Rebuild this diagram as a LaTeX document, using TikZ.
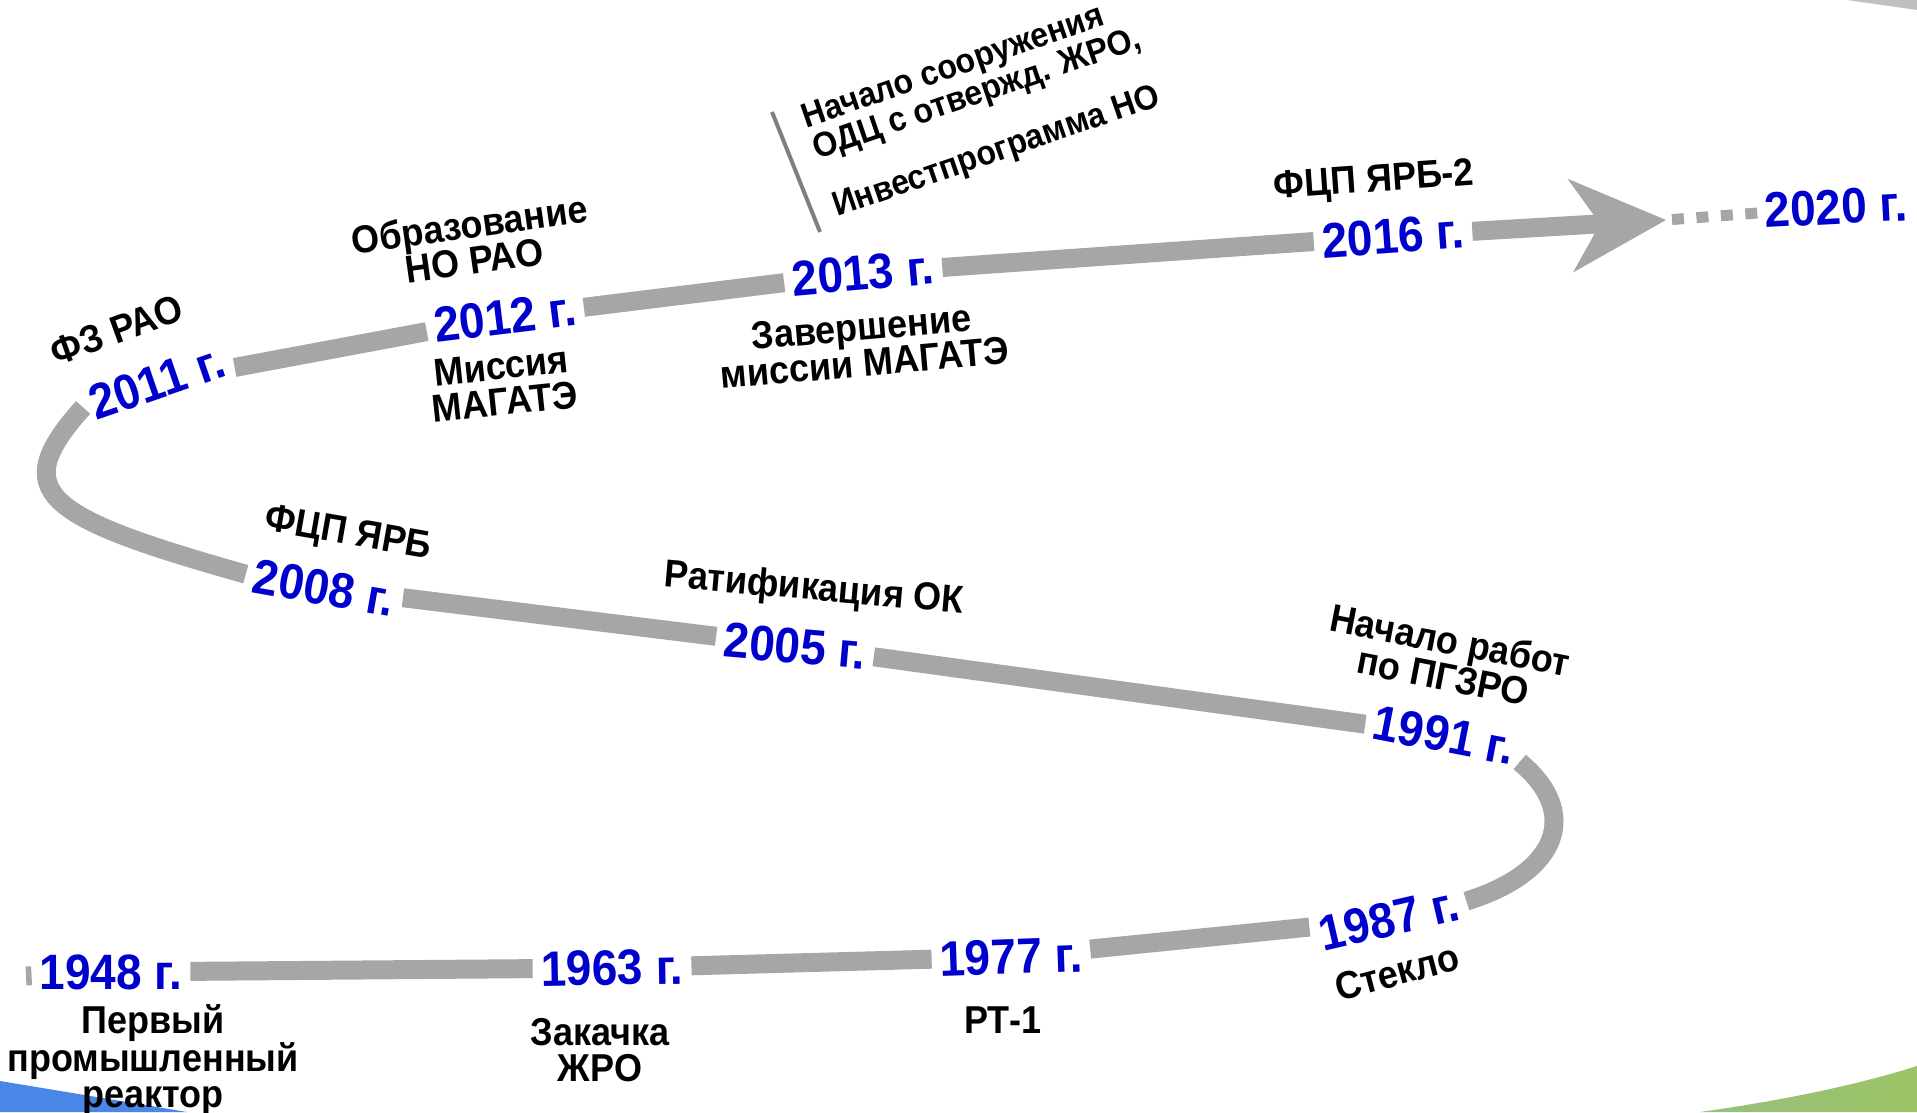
\documentclass[tikz,border=0pt]{standalone}
\usepackage{fontspec}
\setmainfont{Liberation Sans}
\usetikzlibrary{arrows.meta}
\definecolor{yearblue}{HTML}{0000CC}
\definecolor{track}{HTML}{A6A6A6}
\definecolor{rule}{HTML}{7F7F7F}
\definecolor{cornergray}{HTML}{BFBFBF}
\definecolor{sky}{HTML}{4A86E8}
\definecolor{leafL}{HTML}{95BF80}
\definecolor{leafR}{HTML}{9CC465}
\tikzset{
  yr/.style={font=\fontsize{46pt}{50pt}\selectfont\bfseries, text=yearblue,
    inner xsep=8pt, inner ysep=4pt},
  lbl/.style={font=\fontsize{36pt}{33.5pt}\selectfont\bfseries, align=center, inner sep=2pt},
  tilted/.style={rotate=#1, yscale=1.08},
  tilted/.default=0,
  trk/.style={draw=track, line width=19pt},
  arr/.style={trk, -{Stealth[length=96pt,width=94pt,inset=30pt,line width=0pt]}},
  dots/.style={draw=track, line width=11pt, dash pattern=on 12pt off 12.5pt, dash phase=18.5pt},
}

\begin{document}
\begin{tikzpicture}[x=1pt, y=1pt]
  \useasboundingbox (0,0) rectangle (1917,1112);
  % фон
  \fill[sky] (0,31) -- (187,0) -- (0,0) -- cycle;
  \shade[left color=leafL, right color=leafR] (1700,0) .. controls (1800,14) and (1870,31) .. (1917,46) -- (1917,0) -- cycle;
  \fill[cornergray] (1847,1112) -- (1917,1102) -- (1917,1112) -- cycle;
  % годы
  \node[yr, tilted] (y1948) at (111,140) {1948 г.};
  \node[yr, tilted=1] (y1963) at (612,144) {1963 г.};
  \node[yr, tilted=2] (y1977) at (1011,155) {1977 г.};
  \node[yr, tilted=13] (y1987) at (1389,193) {1987 г.};
  \node[yr, tilted=-11] (y1991) at (1444,377) {1991 г.};
  \node[yr, tilted=-5] (y2005) at (795,466) {2005 г.};
  \node[yr, tilted=-10] (y2008) at (324,524) {2008 г.};
  \node[yr, tilted=19] (y2011) at (157,730) {2011 г.};
  \node[yr, tilted=7] (y2012) at (505,795) {2012 г.};
  \node[yr, tilted=5] (y2013) at (863,839) {2013 г.};
  \node[yr, tilted=4] (y2016) at (1393,876) {2016 г.};
  \node[yr, tilted=3, inner xsep=5pt] (y2020) at (1836,905) {2020 г.};
  % линия
  \coordinate (start) at (26,136);
  \coordinate (tip) at (1666,892);
  \draw[trk] (start) -- (y1948);
  \draw[trk] (y1948) -- (y1963);
  \draw[trk] (y1963) -- (y1977);
  \draw[trk] (y1977) -- (y1987);
  \draw[trk] (y1987.east) .. controls (1560,240) and (1580,300) .. (y1991.-8);
  \draw[trk] (y1991) -- (y2005);
  \draw[trk] (y2005) -- (y2008);
  \draw[trk] (y2008.west) .. controls (43,595) and (7,620) .. (y2011.west);
  \draw[trk] (y2011) -- (y2012);
  \draw[trk] (y2012) -- (y2013);
  \draw[trk] (y2013) -- (y2016);
  \draw[dots] (tip) -- (y2020);
  \draw[arr] (y2016) -- (tip);
  % подписи
  \node[lbl, tilted] (lFirst) at (153,52) {Первый\\промышленный\\реактор};
  \node[lbl, tilted] (lZak) at (600,62) {Закачка\\ЖРО};
  \node[lbl, tilted] (lRT) at (1003,92) {РТ-1};
  \node[lbl, tilted=15] (lGlass) at (1397,140) {Стекло};
  \node[lbl, tilted=-11] (lPgzro) at (1447,454) {Начало работ\\по ПГЗРО};
  \node[lbl, tilted=-5] (lRatif) at (814,522) {Ратификация ОК};
  \node[lbl, tilted=-10] (lFcp) at (348,577) {ФЦП ЯРБ};
  \node[lbl, tilted=20] (lFz) at (117,782) {ФЗ РАО};
  \node[lbl, tilted=8] (lNoRao) at (472,870) {Образование\\НО РАО};
  \node[lbl, tilted=6] (lMission) at (503,728) {Миссия\\МАГАТЭ};
  \node[lbl, tilted=5] (lEnd) at (863,767) {Завершение\\миссии МАГАТЭ};
  \node[lbl, tilted=4] (lFcp2) at (1374,930) {ФЦП ЯРБ-2};
  \node[lbl, font=\fontsize{32pt}{31pt}\selectfont\bfseries, align=left, tilted=19,
    anchor=north west] (lOdc) at (796,1008) {Начало сооружения\\ОДЦ с отвержд. ЖРО,\\[25pt]Инвестпрограмма НО};
  \coordinate (barT) at (772,1000);
  \coordinate (barB) at (820,880);
  \draw[rule, line width=4pt] (barT) -- (barB);
\end{tikzpicture}
\end{document}
